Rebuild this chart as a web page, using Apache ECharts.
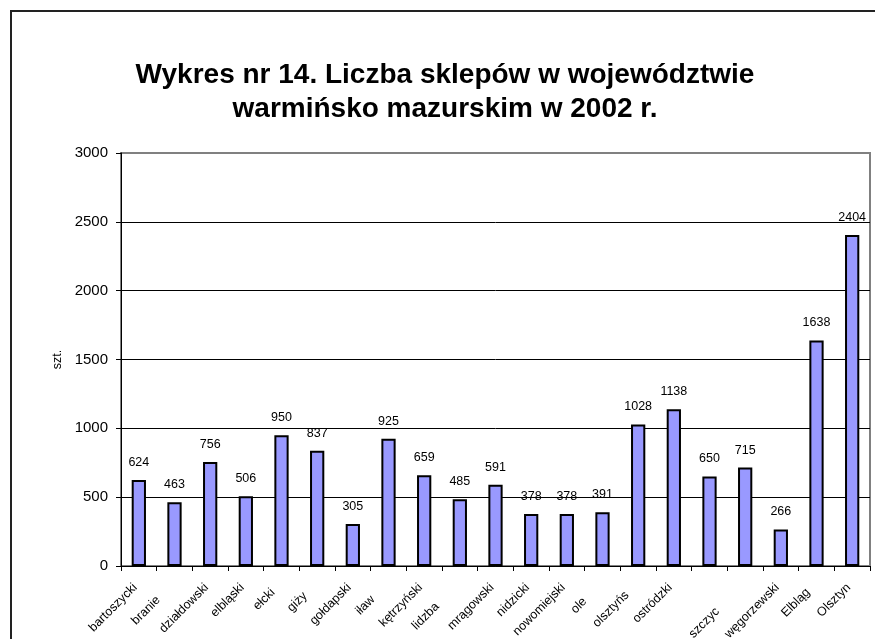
<!DOCTYPE html>
<html>
<head>
<meta charset="utf-8">
<script src="https://cdn.jsdelivr.net/npm/echarts@6/dist/echarts.min.js"></script>
<style>
  html, body { margin: 0; padding: 0; background: #fff; }
  #chart { width: 875px; height: 639px; }
</style>
</head>
<body>
<div id="chart"></div>
<script>
  // powiaty - labels as shown (the original clips some of them, one is missing)
  const categories = ['bartoszycki', 'branie', 'działdowski', 'elbląski', 'ełcki', 'giży', 'gołdapski', 'iław',
    'kętrzyński', 'lidzba', 'mrągowski', 'nidzicki', 'nowomiejski', 'ole', 'olsztyńs', 'ostródzki',
    '', 'szczyc', 'węgorzewski', 'Elbląg', 'Olsztyn'];
  const shops = [624, 463, 756, 506, 950, 837, 305, 925, 659, 485, 591, 378, 378, 391, 1028, 1138, 650, 715, 266, 1638, 2404];
  const yMin = 0;
  const yMax = 3000;
  const yStep = 500;

  // label nudges (px): along = slide down-left along the text, up = lift across it
  const labelAlong = [0, 18, 0, 0, 7, 12, 0, 17, 0, 27, 0, 0, 0, 20, 11, 0, 0, 34, 0, 7, 0];
  const labelUp = [0, 0, 0, 0, 7, 9, 0, 7, 0, 0, 0, 0, 0, 6, 5, 0, 0, 6, 0, 4, 0];
  const baseAlong = 5;
  const baseUp = 5;

  const font = 'Liberation Sans, Arial, sans-serif';
  const chart = echarts.init(document.getElementById('chart'), null, { renderer: 'canvas' });

  chart.setOption({
    animation: false,
    backgroundColor: '#fff',
    textStyle: { fontFamily: font },
    title: {
      text: 'Wykres nr 14. Liczba sklepów w województwie\nwarmińsko mazurskim w 2002 r.',
      left: 440,
      top: 53,
      textAlign: 'center',
      textStyle: { fontSize: 28, fontWeight: 'bold', color: '#000', lineHeight: 34, fontFamily: font }
    },
    graphic: [{
      type: 'rect',
      shape: { x: 11, y: 11, width: 900, height: 700 },
      style: { fill: 'none', stroke: '#222', lineWidth: 2 },
      silent: true
    }],
    grid: {
      left: 121, right: 5, top: 153, bottom: 73,
      outerBoundsMode: 'none', containLabel: false,
      show: true, borderColor: '#808080', borderWidth: 2
    },
    xAxis: {
      type: 'category',
      data: categories.map((c, i) => ({
        value: c,
        textStyle: { padding: [0, baseAlong + labelAlong[i], 2 * (baseUp + labelUp[i]), 0] }
      })),
      axisLine: { lineStyle: { color: '#000', width: 1 } },
      axisTick: { show: true, length: 5, lineStyle: { color: '#000' } },
      axisLabel: { rotate: 45, interval: 0, margin: 16, fontSize: 12.5, color: '#000', fontFamily: font }
    },
    yAxis: {
      type: 'value',
      min: yMin,
      max: yMax,
      interval: yStep,
      name: 'szt.',
      nameLocation: 'middle',
      nameGap: 52,
      nameTextStyle: { fontSize: 12.5, color: '#000', fontFamily: font },
      axisLine: { show: true, lineStyle: { color: '#000', width: 1 } },
      axisTick: { show: true, length: 5, lineStyle: { color: '#000' } },
      axisLabel: { fontSize: 15, color: '#000', margin: 13, fontFamily: font, formatter: v => String(v) },
      splitLine: { lineStyle: { color: ['#000', '#000', '#000', '#000', '#000', '#000', '#808080'], width: 1 } }
    },
    series: [{
      type: 'bar',
      data: shops,
      barWidth: '40%',
      itemStyle: { color: '#9999ff', borderColor: '#000', borderWidth: 2 },
      label: { show: true, position: 'top', distance: 11, fontSize: 12.5, color: '#000', fontFamily: font }
    }]
  });
</script>
</body>
</html>
